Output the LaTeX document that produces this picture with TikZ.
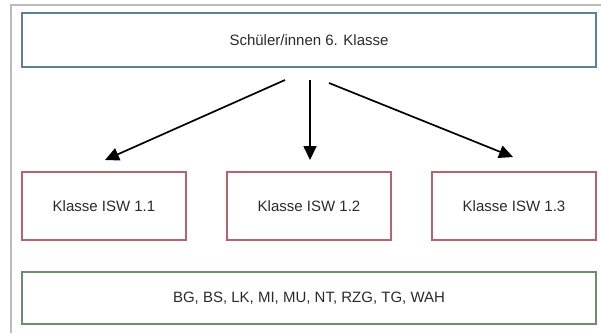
\documentclass[tikz,border=0pt]{standalone}
\usepackage{fontspec}
\setmainfont{Liberation Sans}
\usetikzlibrary{calc,arrows.meta}
\definecolor{boxblue}{HTML}{5E7F94}
\definecolor{boxred}{HTML}{B4646C}
\definecolor{boxgreen}{HTML}{6E8C6E}
\definecolor{txt}{HTML}{2A2A2A}
\definecolor{frame}{HTML}{BBBBBB}
\begin{document}
\begin{tikzpicture}[x=1pt,y=-1pt,
  box/.style={draw,line width=2pt,inner sep=0pt,outer sep=0pt,text=txt,font=\fontsize{15}{17}\selectfont},
  arr/.style={line width=1.7pt,-{Triangle[length=14pt,width=13pt]}}]
\useasboundingbox (0,0) rectangle (601,333);
\draw[frame,line width=1.5pt] (11,333) -- (11,5) -- (601,5);
\node[box,draw=boxblue,minimum width=574pt,minimum height=54pt] (top) at (309,40) {Schüler/innen 6. Klasse};
\node[box,draw=boxred,minimum width=164pt,minimum height=68pt] (k1) at (104,206) {Klasse ISW 1.1};
\node[box,draw=boxred,minimum width=164pt,minimum height=68pt] (k2) at (309,206) {Klasse ISW 1.2};
\node[box,draw=boxred,minimum width=164pt,minimum height=68pt] (k3) at (514,206) {Klasse ISW 1.3};
\node[box,draw=boxgreen,minimum width=574pt,minimum height=52pt] (fach) at (309,298) {BG, BS, LK, MI, MU, NT, RZG, TG, WAH};
\draw[arr] ($(top.south)+(-24,13)$) -- ($(k1.north)+(1,-12)$);
\draw[arr] ($(top.south)+(1,13)$) -- ($(k2.north)+(1,-12)$);
\draw[arr] ($(top.south)+(20,16)$) -- ($(k3.north)+(-1,-15)$);
\end{tikzpicture}
\end{document}
